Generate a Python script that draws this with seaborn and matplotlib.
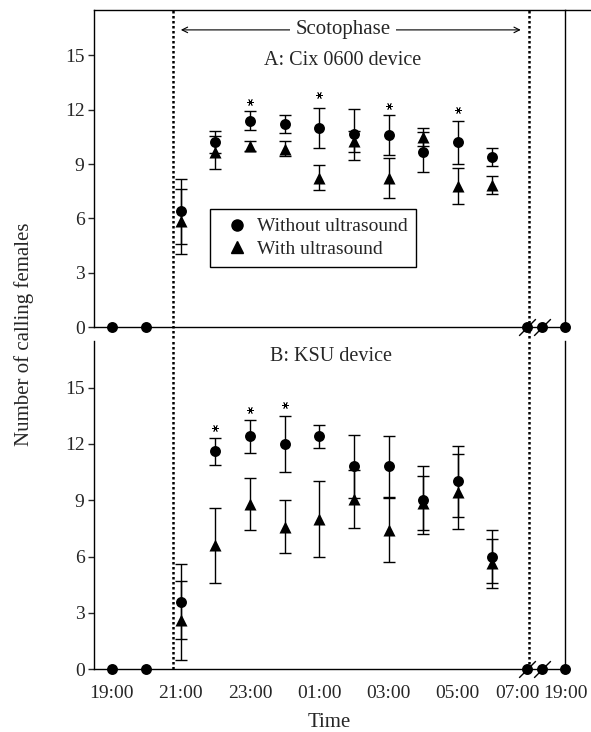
import numpy as np
import pandas as pd
import seaborn as sns
import matplotlib.pyplot as plt
from matplotlib.lines import Line2D
import matplotlib.transforms as mtransforms

sns.set_style('ticks')
plt.rcParams['font.family'] = ['Liberation Serif', 'DejaVu Serif']

# hours after 19:00 (break in the axis after 07:00)
scoto_x = [2, 3, 4, 5, 6, 7, 8, 9, 10, 11]
zero_x = [0, 1, 12, 12.43, 13.1]
break_x = [12, 12.43]
tick_pos = [0, 2, 4, 6, 8, 10, 12, 13.1]
tick_labels = ['19:00', '21:00', '23:00', '01:00', '03:00', '05:00', '07:00', '19:00']
minor_pos = [2, 4, 6, 8, 10]
scoto_start, scoto_end = 1.78, 12.06

# panel A: Cix 0600 device
a_without = [6.4, 10.2, 11.4, 11.2, 11.0, 10.65, 10.6, 9.65, 10.2, 9.4]
a_without_err = [1.8, 0.6, 0.5, 0.5, 1.1, 1.4, 1.1, 1.1, 1.2, 0.5]
a_with = [5.85, 9.65, 10.0, 9.85, 8.25, 10.25, 8.25, 10.5, 7.8, 7.85]
a_with_err = [1.8, 0.9, 0.3, 0.4, 0.7, 0.6, 1.1, 0.5, 1.0, 0.5]
a_star_x = [4, 6, 8, 10]
a_star_y = [12.45, 12.83, 12.23, 12.0]

# panel B: KSU device
b_without = [3.6, 11.6, 12.4, 12.0, 12.4, 10.8, 10.8, 9.0, 10.0, 6.0]
b_without_err = [2.0, 0.7, 0.9, 1.5, 0.6, 1.7, 1.6, 1.8, 1.9, 1.4]
b_with = [2.6, 6.6, 8.8, 7.6, 8.0, 9.05, 7.4, 8.85, 9.45, 5.65]
b_with_err = [2.1, 2.0, 1.4, 1.4, 2.0, 1.55, 1.7, 1.45, 2.0, 1.3]
b_star_x = [3, 4, 5]
b_star_y = [12.84, 13.8, 14.06]

FS = 14
FS_TITLE = 14.5
FS_LABEL = 15

fig = plt.figure(figsize=(5.91, 7.32), dpi=100)
axA = fig.add_axes([0.1596, 0.5529, 0.7965, 0.4335])
axB = fig.add_axes([0.1596, 0.0857, 0.7965, 0.4489])


def draw_panel(ax, wo, wo_err, w, w_err, star_x, star_y, title, title_y, title_x):
    ax.set_xlim(-0.5, 13.1)
    ax.set_ylim(0, 17.5)
    ax.errorbar(scoto_x, w, yerr=w_err, fmt='none', ecolor='black',
                elinewidth=1.0, capsize=4.5, capthick=1.0, zorder=3)
    ax.errorbar(scoto_x, wo, yerr=wo_err, fmt='none', ecolor='black',
                elinewidth=1.0, capsize=4.5, capthick=1.0, zorder=3)
    df_w = pd.DataFrame({'x': scoto_x, 'y': w})
    df_wo = pd.DataFrame({'x': scoto_x + zero_x, 'y': wo + [0] * len(zero_x)})
    sns.scatterplot(data=df_w, x='x', y='y', marker='^', s=75, color='black',
                    linewidth=0, ax=ax, zorder=4, clip_on=False)
    sns.scatterplot(data=df_wo, x='x', y='y', marker='o', s=62, color='black',
                    linewidth=0, ax=ax, zorder=5, clip_on=False)
    # axis break marks
    ax.plot(break_x, [0] * len(break_x), linestyle='none', marker=[(-1, -1), (1, 1)],
            markersize=12, markeredgewidth=1.0, color='black', clip_on=False, zorder=6)
    # significance asterisks
    ax.plot(star_x, star_y, linestyle='none', marker=(6, 2, 30), markersize=5,
            markeredgewidth=0.6, color='black')
    ax.text(title_x, title_y, title, ha='center', va='center', fontsize=FS_TITLE)
    ax.set_yticks([0, 3, 6, 9, 12, 15])
    ax.set_xticks(tick_pos)
    ax.set_xticks(minor_pos, minor=True)
    ax.tick_params(axis='y', direction='out', length=4, width=1, labelsize=FS, pad=3)
    ax.tick_params(axis='x', which='major', length=0, labelsize=FS, pad=11)
    ax.tick_params(axis='x', which='minor', direction='out', length=5, width=1)
    ax.set_xlabel('')
    ax.set_ylabel('')
    for s in ax.spines.values():
        s.set_linewidth(1.0)
        s.set_color('black')
    ax.spines['top'].set_visible(False)


draw_panel(axA, a_without, a_without_err, a_with, a_with_err, a_star_x, a_star_y,
           'A: Cix 0600 device', 14.7, 6.66)
draw_panel(axB, b_without, b_without_err, b_with, b_with_err, b_star_x, b_star_y,
           'B: KSU device', 16.65, 6.35)

axA.set_xticklabels([])
axB.set_xticklabels(tick_labels)
lab = axB.get_xticklabels()[6]
lab.set_transform(lab.get_transform() + mtransforms.ScaledTranslation(-0.1, 0, fig.dpi_scale_trans))

# top border of panel A extends to the figure edge
axA.spines['top'].set_visible(True)
axA.add_line(Line2D([1.0, 1.1], [1.0, 1.0], transform=axA.transAxes, color='black',
                    linewidth=1.0, clip_on=False))

# scotophase boundaries
for xv in [scoto_start, scoto_end]:
    axA.axvline(xv, ymin=-0.05, ymax=1, color='black', linestyle=(0, (1, 1)),
                linewidth=1.8, clip_on=False, zorder=2)
    axB.axvline(xv, ymin=0, ymax=1, color='black', linestyle=(0, (1, 1)),
                linewidth=1.8, zorder=2)

# scotophase arrow
axA.annotate('', xy=(2.0, 16.4), xytext=(11.82, 16.4),
             arrowprops=dict(arrowstyle='<->', color='black', lw=0.8,
                             shrinkA=0, shrinkB=0, mutation_scale=10))
axA.text(6.68, 16.4, 'Scotophase', ha='center', va='center', fontsize=FS_LABEL,
         bbox=dict(facecolor='white', edgecolor='none', pad=4))

# legend
handles = [Line2D([], [], linestyle='none', marker='o', markersize=8, color='black'),
           Line2D([], [], linestyle='none', marker='^', markersize=8.5, color='black')]
leg = axA.legend(handles, ['Without ultrasound', 'With ultrasound'],
                 loc='upper left', bbox_to_anchor=(2.84, 6.52),
                 bbox_transform=axA.transData, fontsize=FS, frameon=True,
                 fancybox=False, edgecolor='black', framealpha=1,
                 handlelength=1.9, handletextpad=0.05, borderpad=0.45,
                 labelspacing=0.27, borderaxespad=0)
leg.get_frame().set_linewidth(1.0)

fig.text(0.041, 0.544, 'Number of calling females', rotation=90, ha='center',
         va='center', fontsize=FS_LABEL)
axB.set_xlabel('Time', fontsize=FS_LABEL, labelpad=8)

fig.savefig('out.png', dpi=100)
